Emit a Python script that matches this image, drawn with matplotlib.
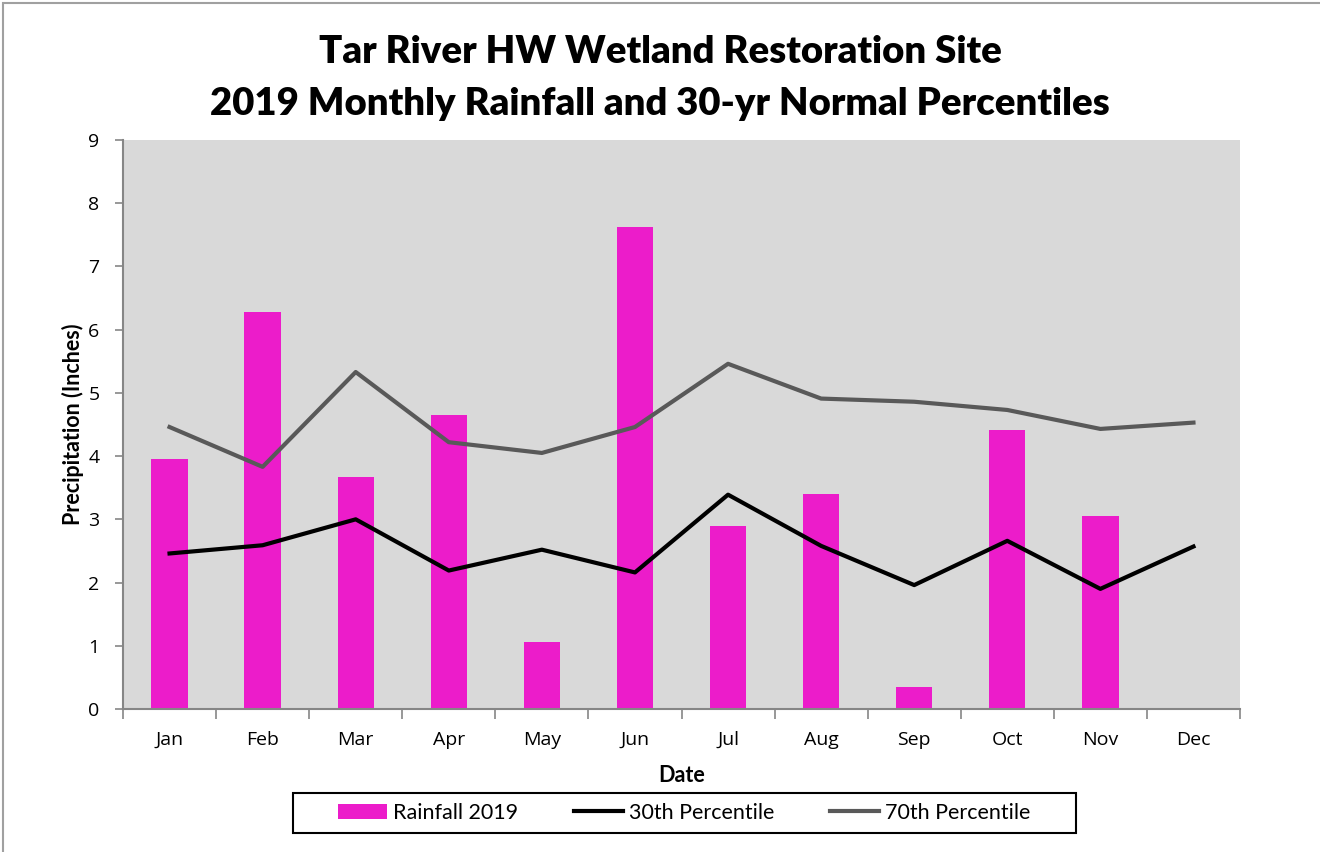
import numpy as np
import matplotlib
matplotlib.use("Agg")
import matplotlib.pyplot as plt
from matplotlib.patches import Rectangle

months = ["Jan", "Feb", "Mar", "Apr", "May", "Jun", "Jul", "Aug", "Sep", "Oct", "Nov", "Dec"]
rainfall_2019 = [3.96, 6.28, 3.67, 4.65, 1.06, 7.63, 2.90, 3.40, 0.35, 4.41, 3.05, np.nan]
pct30 = [2.46, 2.59, 3.00, 2.19, 2.52, 2.16, 3.39, 2.58, 1.96, 2.66, 1.90, 2.57]
pct70 = [4.46, 3.83, 5.33, 4.22, 4.05, 4.46, 5.46, 4.91, 4.86, 4.73, 4.43, 4.53]

title_font = "Lato"
tick_font = "Open Sans"

fig = plt.figure(figsize=(13.2, 8.52), dpi=100)
ax = fig.add_axes([123/1320, 1 - 709/852, (1240-123)/1320, (709-140)/852])

x = np.arange(len(months))
bars = ax.bar(x, rainfall_2019, width=0.39, color="#EC1CCA", label="Rainfall 2019", zorder=2)
l30, = ax.plot(x, pct30, color="black", lw=3, label="30th Percentile", zorder=3)
l70, = ax.plot(x, pct70, color="#595959", lw=3, label="70th Percentile", zorder=3)

ax.set_facecolor("#D9D9D9")
ax.set_xlim(-0.5, 11.5)
ax.set_ylim(0, 9)
ax.set_yticks(range(10))
ax.set_xticks(x)
ax.set_xticklabels(months)
ax.set_xticks(np.arange(-0.5, 12, 1), minor=True)
ax.tick_params(axis="both", which="both", labelsize=14, labelfontfamily=tick_font)
ax.tick_params(axis="x", which="major", length=0, pad=16)
ax.tick_params(axis="x", which="minor", length=7, color="#868686", width=1.2, direction="out")
ax.tick_params(axis="y", length=6, color="#868686", width=1.2, direction="out", pad=11)
for s in ["top", "right"]:
    ax.spines[s].set_visible(False)
for s in ["left", "bottom"]:
    ax.spines[s].set_color("#868686")
    ax.spines[s].set_linewidth(1.5)

ax.set_xlabel("Date", fontfamily=title_font, fontweight="bold", fontsize=15.5, labelpad=11)
ax.set_ylabel("Precipitation (Inches)", fontfamily=title_font, fontweight="bold", fontsize=15.5, labelpad=3)

fig.text(0.5, 1 - 52/852, "Tar River HW Wetland Restoration Site", ha="center", va="center",
         fontfamily=title_font, fontweight="heavy", fontsize=27.5)
fig.text(0.5, 1 - 104/852, "2019 Monthly Rainfall and 30-yr Normal Percentiles", ha="center", va="center",
         fontfamily=title_font, fontweight="heavy", fontsize=27.5)

leg = fig.legend([bars, l30, l70], ["Rainfall 2019", "30th Percentile", "70th Percentile"],
                 loc="center", bbox_to_anchor=(684/1320, 1 - 813/852), ncol=3, frameon=False,
                 prop={"family": title_font, "size": 15.5},
                 handlelength=2.3, handletextpad=0.25, columnspacing=2.6)

fig.patches.append(Rectangle((293/1320, 1 - 833/852), (1076-293)/1320, 40/852, transform=fig.transFigure,
                             fill=False, edgecolor="black", lw=1.5))
fig.patches.append(Rectangle((3/1320, -0.01), 1.1, 1 - 3/852 + 0.01, transform=fig.transFigure,
                             fill=False, edgecolor="#A0A0A0", lw=1.5))

fig.savefig("out.png", dpi=100)
